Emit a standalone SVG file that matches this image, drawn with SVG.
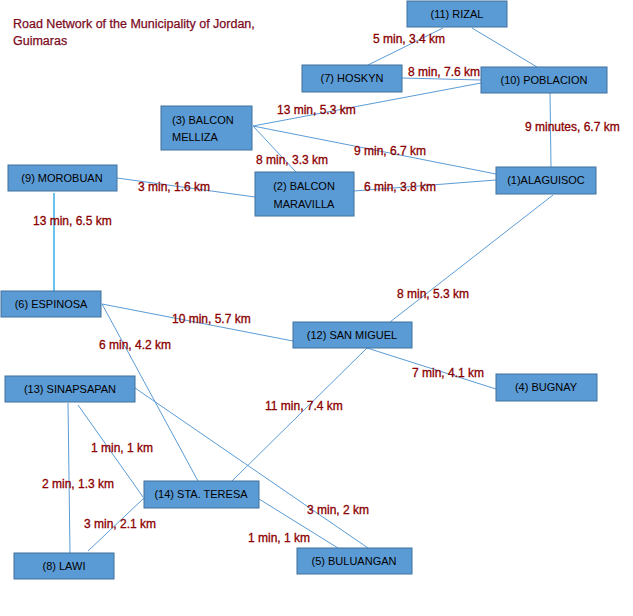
<svg xmlns="http://www.w3.org/2000/svg" width="633" height="616" viewBox="0 0 633 616">
<style>
.node rect{fill:#5B9BD5;stroke:#41719C;stroke-width:1}
.node text{font-family:"Liberation Sans",Arial,sans-serif;font-size:11px;fill:#000;text-anchor:middle}
.edges line{stroke:#5B9BD5;stroke-width:1;fill:none}
.lbl{font-family:"Liberation Sans",Arial,sans-serif;font-size:12px;fill:#8B0000;stroke:#8B0000;stroke-width:0.3}
.title{font-family:"Liberation Sans",Arial,sans-serif;font-size:12.5px;fill:#7B0A1E;stroke:#7B0A1E;stroke-width:0.25}
</style>
<rect width="633" height="616" fill="#fff"/>
<text class="title" x="13" y="28">Road Network of the Municipality of Jordan,</text>
<text class="title" x="13" y="45">Guimaras</text>
<g id="connectors" class="edges">
<line x1="443" y1="28" x2="368" y2="65"/>
<line x1="472" y1="28" x2="537" y2="67"/>
<line x1="402" y1="78" x2="481" y2="80"/>
<line x1="253" y1="126" x2="481" y2="83"/>
<line x1="253" y1="126" x2="496" y2="174"/>
<line x1="253" y1="126" x2="296" y2="172"/>
<line x1="117" y1="178" x2="255" y2="197"/>
<line x1="354" y1="191" x2="496" y2="180"/>
<line x1="550" y1="93" x2="551" y2="167"/>
<line x1="54" y1="193" x2="54" y2="291" style="stroke:#1BA1E2;stroke-width:1.3"/>
<line x1="553" y1="195" x2="390" y2="322"/>
<line x1="102" y1="304" x2="293" y2="341"/>
<line x1="102" y1="304" x2="198" y2="481"/>
<line x1="367" y1="348" x2="496" y2="389"/>
<line x1="367" y1="348" x2="232" y2="481"/>
<line x1="68" y1="403" x2="70" y2="553"/>
<line x1="78" y1="405" x2="143" y2="497"/>
<line x1="135" y1="388" x2="368" y2="548"/>
<line x1="144" y1="498" x2="88" y2="551"/>
<line x1="259" y1="499" x2="338" y2="548"/>
</g>
<g id="labels">
<text class="lbl" x="373" y="43">5 min, 3.4 km</text>
<text class="lbl" x="408" y="76">8 min, 7.6 km</text>
<text class="lbl" x="277" y="114">13 min, 5.3 km</text>
<text class="lbl" x="354" y="155">9 min, 6.7 km</text>
<text class="lbl" x="256" y="164">8 min, 3.3 km</text>
<text class="lbl" x="364" y="191">6 min, 3.8 km</text>
<text class="lbl" x="138" y="191">3 min, 1.6 km</text>
<text class="lbl" x="33" y="225">13 min, 6.5 km</text>
<text class="lbl" x="525" y="131">9 minutes, 6.7 km</text>
<text class="lbl" x="397" y="298">8 min, 5.3 km</text>
<text class="lbl" x="172" y="323">10 min, 5.7 km</text>
<text class="lbl" x="99" y="349">6 min, 4.2 km</text>
<text class="lbl" x="412" y="377">7 min, 4.1 km</text>
<text class="lbl" x="265" y="410">11 min, 7.4 km</text>
<text class="lbl" x="91" y="452">1 min, 1 km</text>
<text class="lbl" x="42" y="488">2 min, 1.3 km</text>
<text class="lbl" x="84" y="528">3 min, 2.1 km</text>
<text class="lbl" x="307" y="514">3 min, 2 km</text>
<text class="lbl" x="248" y="542">1 min, 1 km</text>
</g>
<g id="n11" class="node"><rect x="407" y="1" width="100" height="26"/><text x="457" y="18">(11) RIZAL</text></g>
<g id="n7" class="node"><rect x="302" y="65" width="100" height="27"/><text x="352" y="82">(7) HOSKYN</text></g>
<g id="n10" class="node"><rect x="481" y="67" width="126" height="26"/><text x="544" y="84">(10) POBLACION</text></g>
<g id="n3" class="node"><rect x="161" y="106" width="91" height="44"/><text x="172" y="124" style="text-anchor:start">(3) BALCON</text><text x="172" y="141" style="text-anchor:start">MELLIZA</text></g>
<g id="n2" class="node"><rect x="255" y="172" width="99" height="44"/><text x="304" y="190">(2) BALCON</text><text x="304" y="208">MARAVILLA</text></g>
<g id="n9" class="node"><rect x="8" y="165" width="109" height="26"/><text x="62" y="182">(9) MOROBUAN</text></g>
<g id="n1" class="node"><rect x="496" y="167" width="100" height="27"/><text x="546" y="184">(1)ALAGUISOC</text></g>
<g id="n6" class="node"><rect x="1" y="291" width="100" height="26"/><text x="51" y="308">(6) ESPINOSA</text></g>
<g id="n12" class="node"><rect x="293" y="322" width="119" height="26"/><text x="352" y="339">(12) SAN MIGUEL</text></g>
<g id="n4" class="node"><rect x="496" y="374" width="101" height="27"/><text x="546" y="391">(4) BUGNAY</text></g>
<g id="n13" class="node"><rect x="5" y="376" width="130" height="26"/><text x="70" y="393">(13) SINAPSAPAN</text></g>
<g id="n14" class="node"><rect x="144" y="481" width="115" height="27"/><text x="201" y="498">(14) STA. TERESA</text></g>
<g id="n8" class="node"><rect x="14" y="553" width="100" height="26"/><text x="64" y="570">(8) LAWI</text></g>
<g id="n5" class="node"><rect x="297" y="548" width="115" height="26"/><text x="354" y="565">(5) BULUANGAN</text></g>
</svg>
